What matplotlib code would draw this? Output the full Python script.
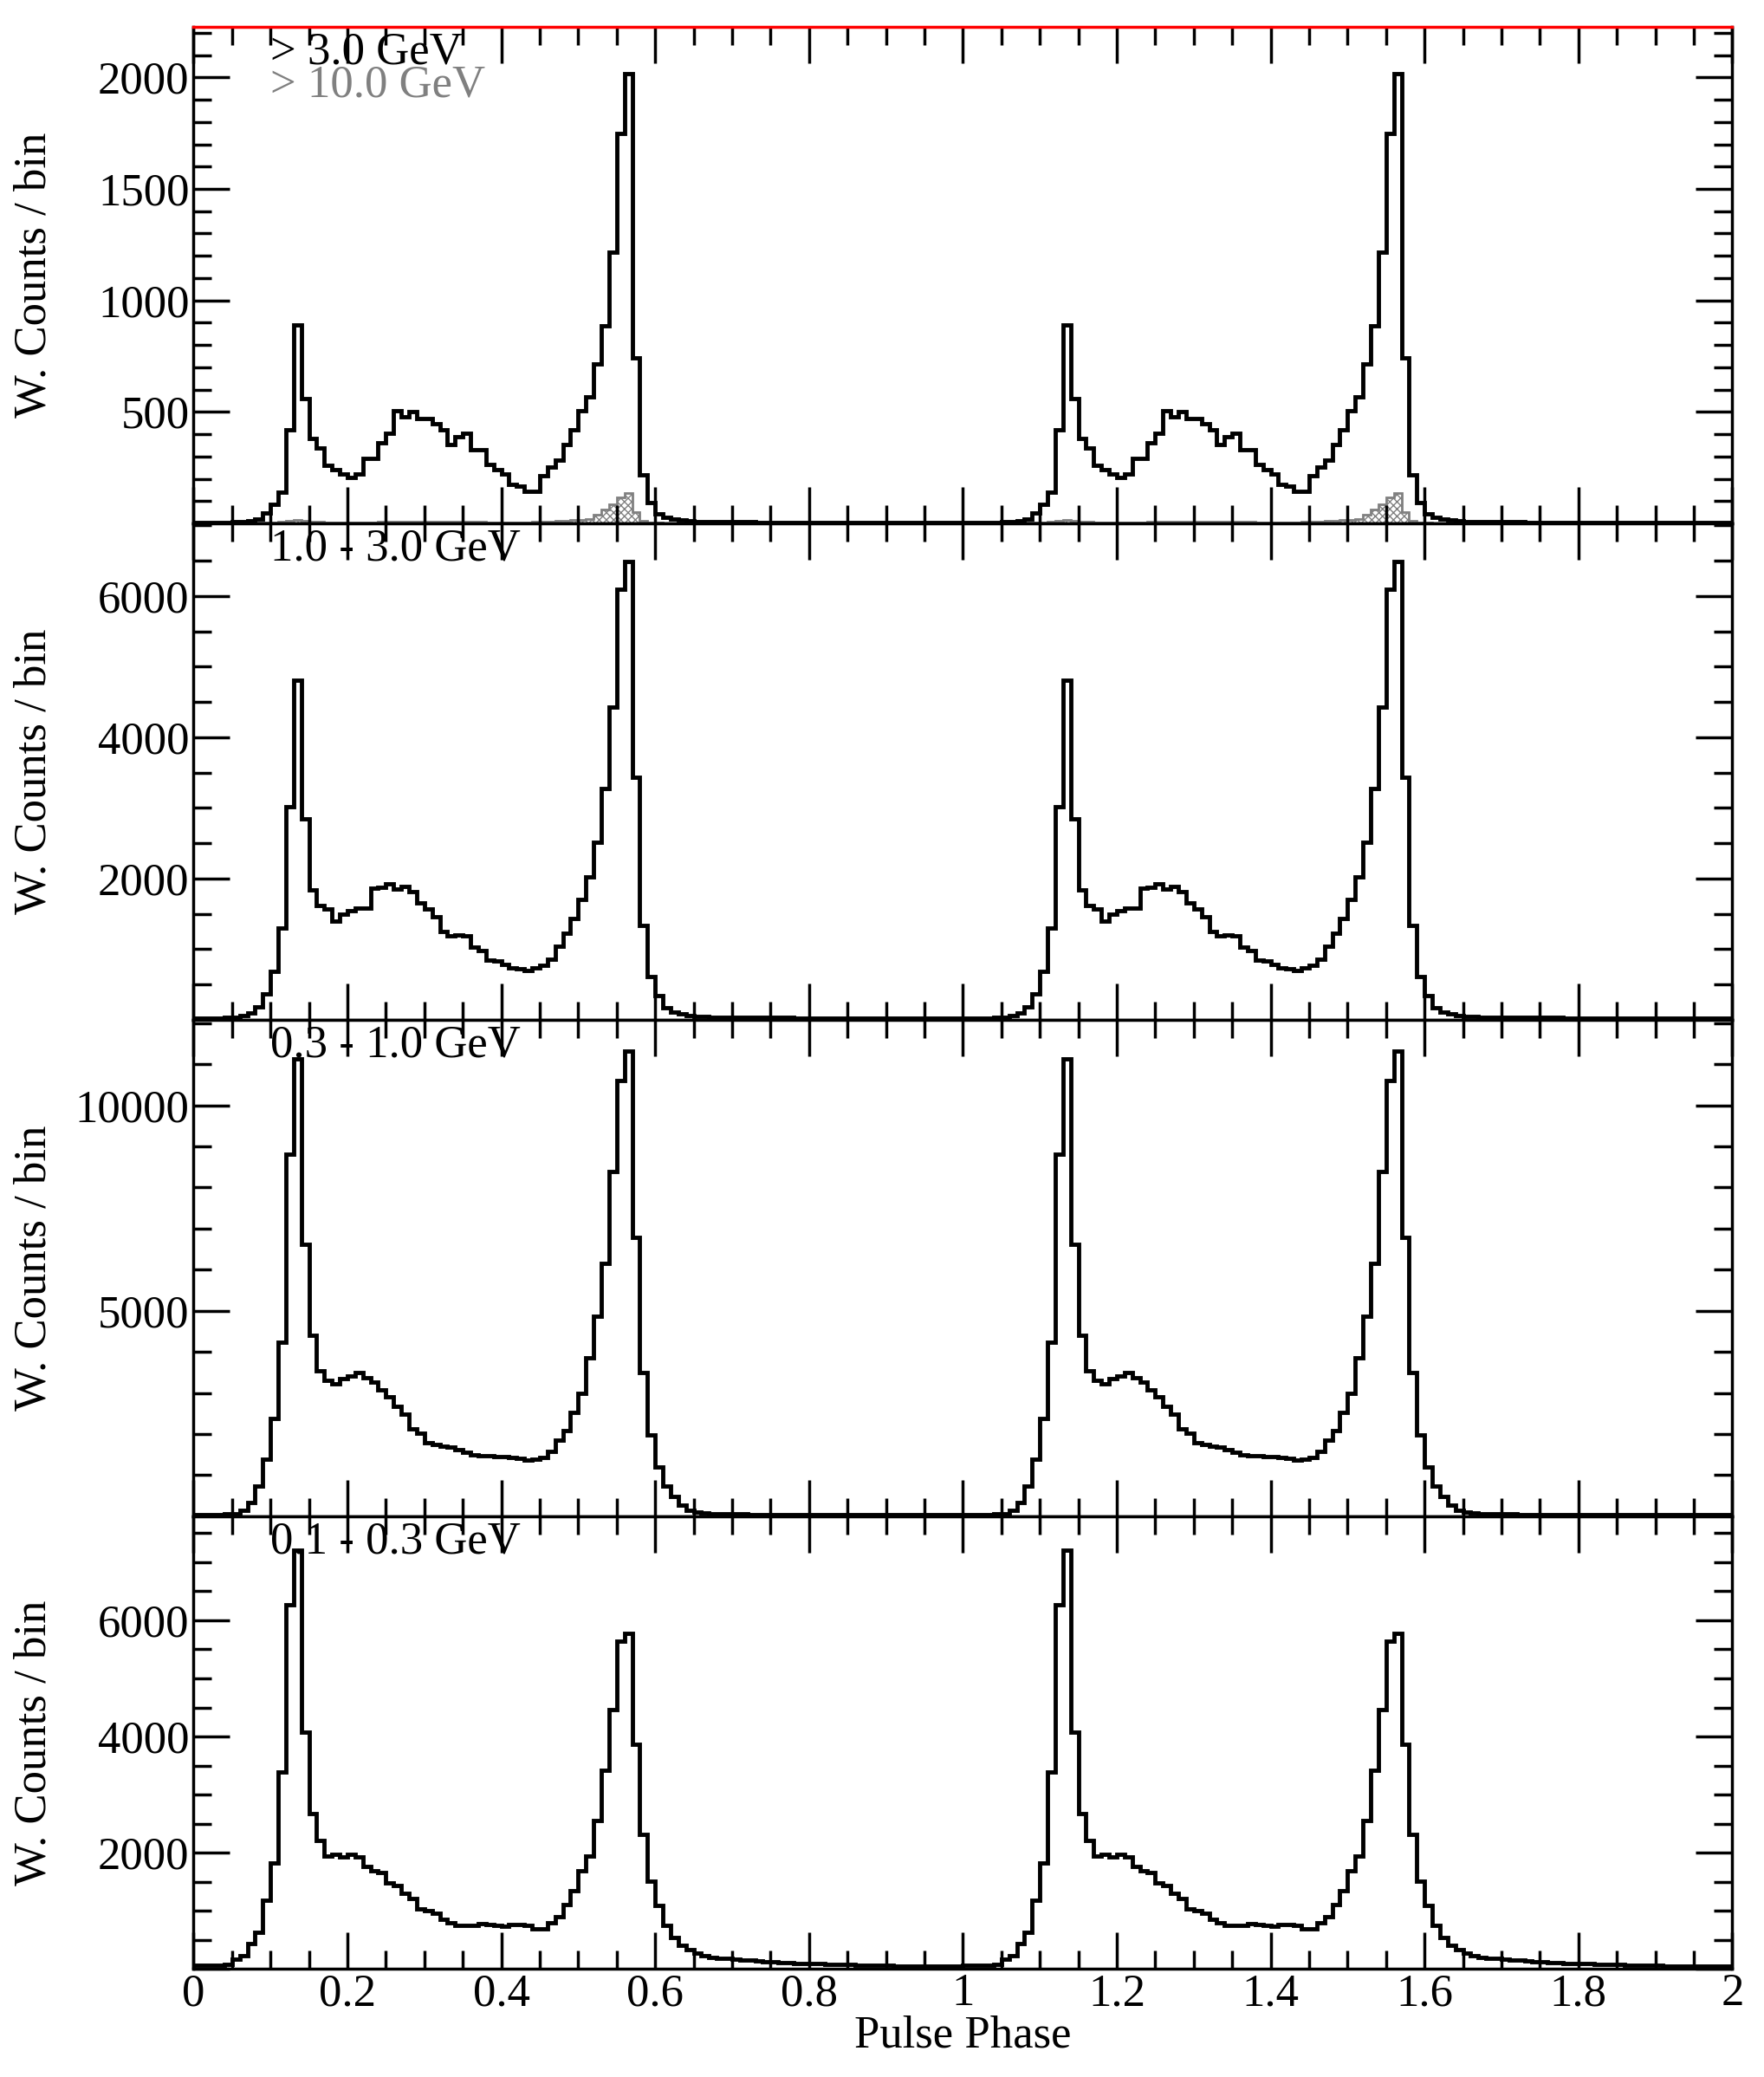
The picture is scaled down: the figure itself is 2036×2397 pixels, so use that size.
import numpy as np
import matplotlib
matplotlib.use('Agg')
import matplotlib.pyplot as plt
from matplotlib.ticker import MultipleLocator, FuncFormatter

# weighted counts per 0.01 phase bin (one rotation, drawn twice)
gt3 = [3, 3, 4, 4, 5, 6, 8, 12, 20, 45,
       85, 140, 420, 890, 560, 380, 340, 260, 240, 220,
       207, 220, 290, 290, 360, 405, 505, 478, 500, 470,
       470, 448, 420, 352, 390, 405, 330, 330, 263, 240,
       220, 175, 167, 145, 145, 212, 253, 285, 352, 420,
       507, 566, 714, 885, 1217, 1750, 2016, 744, 219, 93,
       41, 27, 18, 14, 11, 9, 8, 7, 7, 6,
       6, 6, 6, 5, 5, 5, 5, 5, 5, 5,
       5, 5, 5, 4, 4, 4, 4, 4, 4, 4,
       4, 4, 3, 3, 3, 3, 3, 3, 3, 3]
gt10 = [2, 2, 2, 2, 2, 2, 3, 3, 3, 4,
        5, 8, 12, 15, 12, 8, 6, 5, 5, 5,
        5, 5, 5, 5, 6, 6, 7, 7, 8, 8,
        8, 8, 7, 7, 7, 6, 6, 6, 5, 5,
        5, 5, 5, 5, 6, 6, 8, 10, 12, 14,
        16, 20, 40, 64, 85, 115, 137, 50, 10, 4,
        3, 2, 2, 2, 2, 2, 2, 2, 2, 2,
        2, 2, 2, 2, 2, 2, 2, 2, 2, 2,
        2, 2, 2, 2, 2, 2, 2, 2, 2, 2,
        2, 2, 2, 2, 2, 2, 2, 2, 2, 2]
e1_3 = [20, 20, 22, 25, 30, 40, 60, 95, 186, 370,
        685, 1300, 3020, 4810, 2840, 1840, 1615, 1570, 1400, 1500,
        1540, 1580, 1580, 1865, 1873, 1930, 1855, 1885, 1820, 1660,
        1570, 1455, 1250, 1185, 1205, 1185, 1025, 980, 845, 835,
        785, 740, 720, 700, 730, 775, 857, 1048, 1230, 1433,
        1705, 2020, 2520, 3270, 4425, 6100, 6490, 3430, 1340, 617,
        345, 172, 110, 80, 60, 50, 45, 42, 40, 38,
        36, 35, 34, 33, 32, 31, 30, 30, 29, 28,
        28, 27, 27, 26, 26, 25, 25, 25, 24, 24,
        24, 23, 23, 22, 22, 22, 21, 21, 20, 20]
e03_1 = [30, 32, 35, 40, 50, 60, 150, 336, 727,
         1390, 2370, 4240, 8810, 11120, 6625, 4400, 3540, 3300, 3230,
         3340, 3420, 3500, 3380, 3270, 3070, 2915, 2680, 2480, 2130,
         2015, 1780, 1740, 1700, 1680, 1625, 1560, 1500, 1470, 1470,
         1460, 1450, 1420, 1400, 1370, 1390, 1420, 1585, 1860, 2090, 2520,
         2990, 3850, 4870, 6155, 8380, 10610, 11310, 6780, 3500, 1980,
         1195, 727, 490, 260, 140, 100, 80, 65, 60, 55,
         50, 50, 48, 45, 45, 42, 40, 40, 40, 38,
         38, 36, 35, 35, 34, 33, 33, 32, 32, 31,
         31, 30, 30, 30, 30, 30, 30, 30, 30, 30]
e01_03 = [60, 60, 65, 70, 80, 170, 225, 434, 628, 1190,
          1820, 3390, 6265, 7210, 4070, 2680, 2210, 1950, 1980, 1925,
          1980, 1925, 1770, 1690, 1665, 1480, 1430, 1300, 1220, 1035,
          1010, 955, 850, 800, 750, 750, 750, 775, 760, 750,
          730, 760, 760, 750, 695, 695, 800, 905, 1115, 1350,
          1690, 1950, 2550, 3415, 4460, 5640, 5770, 3860, 2315, 1505,
          1090, 750, 540, 410, 330, 280, 225, 200, 190, 180,
          170, 160, 150, 140, 130, 120, 110, 105, 100, 100,
          95, 90, 85, 80, 80, 75, 70, 70, 65, 60,
          60, 55, 55, 50, 50, 50, 50, 45, 45, 45]

labels = ['> 3.0 GeV', '1.0 - 3.0 GeV', '0.3 - 1.0 GeV', '0.1 - 0.3 GeV']
series = [gt3, e1_3, e03_1, e01_03]
ymax = [2226, 7030, 12080, 7790]
ymajor = [500, 2000, 5000, 2000]
yminor = [100, 500, 1000, 500]

plt.rcParams['font.family'] = 'Liberation Serif'
fs = 38

fig = plt.figure(figsize=(20.36, 23.97), dpi=100)
edges = np.arange(201) * 0.01
tops = [0.987, 0.748, 0.509, 0.270, 0.052]
axes = []
for k in range(4):
    ax = fig.add_axes([0.1097, tops[k + 1], 0.8723, tops[k] - tops[k + 1]])
    axes.append(ax)
    vals = np.concatenate([series[k], series[k]])
    if k == 0:
        v10 = np.concatenate([gt10, gt10])
        ax.stairs(v10, edges, fill=True, facecolor='none', edgecolor='gray',
                  hatch='xxxx', linewidth=0)
        ax.stairs(v10, edges, color='gray', linewidth=2)
    ax.stairs(vals, edges, color='black', linewidth=3.5)
    ax.set_xlim(0, 2)
    ax.set_ylim(0, ymax[k])
    ax.yaxis.set_major_locator(MultipleLocator(ymajor[k]))
    ax.yaxis.set_minor_locator(MultipleLocator(yminor[k]))
    ax.yaxis.set_major_formatter(FuncFormatter(lambda v, p: '' if v == 0 else '%d' % v))
    ax.xaxis.set_major_locator(MultipleLocator(0.2))
    ax.xaxis.set_minor_locator(MultipleLocator(0.05))
    ax.xaxis.set_major_formatter(FuncFormatter(lambda v, p: ('%.1f' % v).rstrip('0').rstrip('.') if v else '0'))
    ax.tick_params(which='both', direction='in', top=True, right=True, width=2.5,
                   labelsize=fs)
    ax.tick_params(which='major', length=30)
    ax.tick_params(which='minor', length=15)
    for s in ax.spines.values():
        s.set_linewidth(2.5)
    ax.set_ylabel('W. Counts / bin', fontsize=fs)
    ax.yaxis.set_label_coords(-0.09, 0.5)
    ax.text(0.05, 0.99, labels[k], transform=ax.transAxes, va='top', ha='left', fontsize=fs)
    if k < 3:
        ax.tick_params(labelbottom=False)

axes[0].text(0.05, 0.925, '> 10.0 GeV', transform=axes[0].transAxes, va='top',
             ha='left', fontsize=fs, color='gray')
axes[0].spines['top'].set_color('red')
axes[3].set_xlabel('Pulse Phase', fontsize=fs, labelpad=0)
fig.savefig('out.png', dpi=100)
